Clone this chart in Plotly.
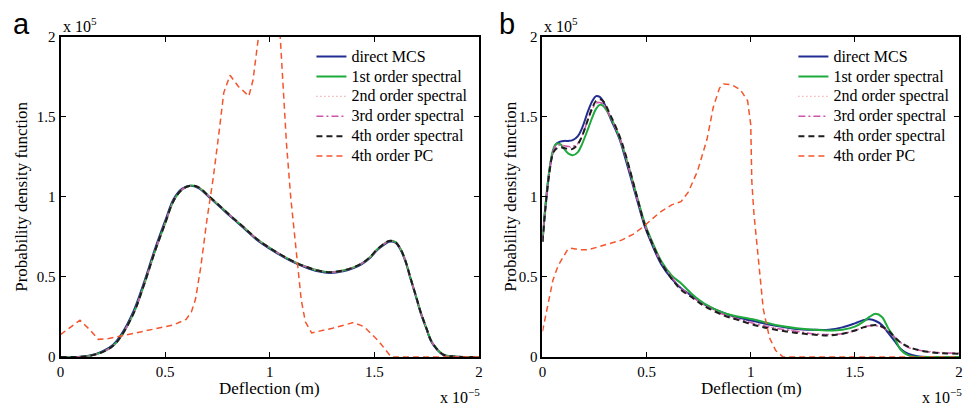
import plotly.graph_objects as go

# ---------------- data (x in 1e-5 m, y in 1e5) ----------------
a_x = [0, 0.05, 0.10, 0.15, 0.20, 0.25, 0.29, 0.35, 0.40, 0.45, 0.50, 0.54, 0.58, 0.62, 0.66, 0.70,
       0.76, 0.81, 0.88, 0.94, 1.02, 1.10, 1.17, 1.23, 1.29, 1.35, 1.40, 1.44, 1.48, 1.515, 1.55,
       1.57, 1.60, 1.625, 1.65, 1.67, 1.70, 1.72, 1.75, 1.77, 1.80, 1.83, 1.87, 1.92, 2.0]
a_mcs = [0, 0, 0.002, 0.012, 0.035, 0.075, 0.14, 0.29, 0.47, 0.67, 0.85, 0.985, 1.05, 1.07, 1.055,
         1.01, 0.94, 0.88, 0.80, 0.73, 0.66, 0.60, 0.56, 0.535, 0.525, 0.535, 0.555, 0.58, 0.62, 0.67,
         0.705, 0.72, 0.715, 0.67, 0.59, 0.50, 0.37, 0.28, 0.17, 0.10, 0.045, 0.012, 0.003, 0, 0]
a_spec = [0, 0, 0.002, 0.01, 0.03, 0.068, 0.13, 0.275, 0.455, 0.655, 0.835, 0.975, 1.045, 1.07, 1.06,
          1.015, 0.945, 0.885, 0.805, 0.735, 0.665, 0.605, 0.565, 0.54, 0.53, 0.54, 0.56, 0.585, 0.625,
          0.675, 0.71, 0.725, 0.718, 0.675, 0.595, 0.505, 0.375, 0.285, 0.175, 0.105, 0.048, 0.014,
          0.004, 0, 0]
a_pc_x = [0, 0.05, 0.093, 0.14, 0.18, 0.23, 0.30, 0.42, 0.54, 0.60, 0.625, 0.645, 0.67, 0.70, 0.73,
          0.76, 0.78, 0.81, 0.85, 0.90, 0.92, 0.946, 0.97, 1.0, 1.03, 1.05, 1.065, 1.08, 1.10, 1.13,
          1.15, 1.17, 1.20, 1.30, 1.40, 1.45, 1.52, 1.58, 1.7, 2.0]
a_pc = [0.14, 0.19, 0.23, 0.17, 0.11, 0.115, 0.135, 0.17, 0.20, 0.235, 0.28, 0.36, 0.56, 0.86, 1.12,
        1.43, 1.65, 1.76, 1.69, 1.63, 1.73, 2.0, 2.25, 2.35, 2.25, 2.0, 1.63, 1.33, 1.0, 0.60, 0.36,
        0.22, 0.15, 0.18, 0.215, 0.19, 0.10, 0.0, 0, 0]

b_x = [0, 0.015, 0.033, 0.05, 0.065, 0.085, 0.104, 0.125, 0.145, 0.17, 0.19, 0.22, 0.24, 0.257, 0.275,
       0.29, 0.33, 0.37, 0.40, 0.45, 0.49, 0.52, 0.57, 0.62, 0.665, 0.72, 0.775, 0.87, 0.93, 1.03, 1.12,
       1.22, 1.30, 1.375, 1.44, 1.50, 1.54, 1.57, 1.60, 1.63, 1.66, 1.69, 1.72, 1.755, 1.80, 1.85, 1.90,
       2.0]
b_mcs = [0.72, 0.95, 1.16, 1.28, 1.33, 1.345, 1.35, 1.35, 1.355, 1.38, 1.43, 1.54, 1.60, 1.63, 1.625,
         1.60, 1.48, 1.36, 1.23, 1.0, 0.82, 0.72, 0.58, 0.49, 0.43, 0.38, 0.33, 0.275, 0.25, 0.22, 0.195,
         0.175, 0.17, 0.17, 0.185, 0.21, 0.23, 0.235, 0.225, 0.20, 0.15, 0.10, 0.05, 0.02, 0.005, 0, 0, 0]
b_1st = [0.72, 0.96, 1.17, 1.29, 1.33, 1.33, 1.30, 1.27, 1.26, 1.28, 1.33, 1.43, 1.50, 1.55, 1.575,
         1.57, 1.49, 1.37, 1.25, 1.02, 0.84, 0.74, 0.60, 0.51, 0.46, 0.39, 0.335, 0.275, 0.255, 0.23,
         0.20, 0.18, 0.17, 0.165, 0.17, 0.19, 0.22, 0.25, 0.27, 0.25, 0.18, 0.12, 0.045, 0.012, 0, 0, 0, 0]
b_2nd = [0.72, 0.95, 1.16, 1.28, 1.32, 1.325, 1.32, 1.31, 1.31, 1.33, 1.38, 1.49, 1.55, 1.59, 1.595,
         1.585, 1.49, 1.37, 1.25, 1.01, 0.83, 0.73, 0.59, 0.50, 0.43, 0.375, 0.325, 0.265, 0.24, 0.205,
         0.18, 0.16, 0.145, 0.14, 0.145, 0.165, 0.185, 0.195, 0.195, 0.185, 0.16, 0.125, 0.09, 0.06,
         0.045, 0.035, 0.03, 0.025]
b_3rd = [0.72, 0.95, 1.16, 1.28, 1.32, 1.325, 1.32, 1.315, 1.315, 1.335, 1.38, 1.49, 1.55, 1.585, 1.59,
         1.58, 1.49, 1.37, 1.25, 1.01, 0.83, 0.73, 0.59, 0.50, 0.43, 0.375, 0.325, 0.265, 0.24, 0.205,
         0.18, 0.16, 0.145, 0.14, 0.145, 0.165, 0.185, 0.195, 0.195, 0.185, 0.16, 0.125, 0.09, 0.06,
         0.045, 0.033, 0.027, 0.022]
b_4th = [0.72, 0.94, 1.15, 1.27, 1.30, 1.31, 1.305, 1.30, 1.30, 1.33, 1.38, 1.49, 1.56, 1.60, 1.61,
         1.60, 1.50, 1.38, 1.26, 1.02, 0.83, 0.73, 0.59, 0.49, 0.42, 0.37, 0.32, 0.26, 0.235, 0.195,
         0.17, 0.15, 0.14, 0.135, 0.145, 0.165, 0.185, 0.195, 0.20, 0.19, 0.165, 0.125, 0.09, 0.065,
         0.045, 0.032, 0.025, 0.02]
b_pc_x = [0, 0.025, 0.05, 0.075, 0.097, 0.12, 0.136, 0.18, 0.22, 0.30, 0.38, 0.44, 0.49, 0.56, 0.62,
          0.665, 0.70, 0.744, 0.79, 0.82, 0.85, 0.87, 0.91, 0.95, 0.985, 1.0, 1.005, 1.015, 1.03, 1.06,
          1.09, 1.12, 1.155, 1.3, 2.0]
b_pc = [0.16, 0.33, 0.48, 0.57, 0.62, 0.67, 0.68, 0.67, 0.67, 0.70, 0.73, 0.77, 0.82, 0.90, 0.95, 0.97,
        1.03, 1.16, 1.36, 1.56, 1.68, 1.705, 1.70, 1.67, 1.60, 1.45, 1.1, 0.9, 0.70, 0.30, 0.12, 0.04,
        0, 0, 0]

names = ["direct MCS", "1st order spectral", "2nd order spectral", "3rd order spectral",
         "4th order spectral", "4th order PC"]
tick_vals = [0, 0.5, 1, 1.5, 2]
tick_text = ["0", "0.5", "1", "1.5", "2"]

# ---------------- styles ----------------
C_MCS = "rgb(35,45,145)"
C_1ST = "rgb(30,170,60)"
C_2ND = "rgb(240,140,140)"
C_3RD = "rgb(205,85,175)"
C_4TH = "rgb(30,30,30)"
C_PC = "rgb(245,85,45)"
FONT = "Liberation Serif"

styles = [
    dict(color=C_MCS, width=2, dash="solid"),
    dict(color=C_1ST, width=2, dash="solid"),
    dict(color=C_2ND, width=1.2, dash="1px,3px"),
    dict(color=C_3RD, width=1.5, dash="7px,3px,2px,3px"),
    dict(color=C_4TH, width=2, dash="6px,4px"),
    dict(color=C_PC, width=1.5, dash="6px,4px"),
]

fig = go.Figure()

panel_a = [(a_x, a_mcs), (a_x, a_spec), (a_x, a_spec), (a_x, a_spec), (a_x, a_spec), (a_pc_x, a_pc)]
panel_b = [(b_x, b_mcs), (b_x, b_1st), (b_x, b_2nd), (b_x, b_3rd), (b_x, b_4th), (b_pc_x, b_pc)]


def legend_label(s):
    return '<span style="font-size:16px">' + s + '</span>'


for i, (xs, ys) in enumerate(panel_a):
    fig.add_trace(go.Scatter(x=xs, y=ys, mode="lines", name=legend_label(names[i]), line=styles[i],
                             line_shape="linear" if i == 5 else "spline",
                             xaxis="x", yaxis="y", legend="legend", cliponaxis=True))
for i, (xs, ys) in enumerate(panel_b):
    fig.add_trace(go.Scatter(x=xs, y=ys, mode="lines", name=legend_label(names[i]), line=styles[i],
                             line_shape="linear" if i == 5 else "spline",
                             xaxis="x2", yaxis="y2", legend="legend2", cliponaxis=True))

W, H = 964, 414
ydom = [(H - 363) / H, (H - 30) / H]
axis_common = dict(range=[0, 2], tickvals=tick_vals, ticktext=tick_text, ticks="inside", ticklen=5,
                   tickwidth=1.2, tickcolor="black", showline=True, linecolor="black", linewidth=2,
                   mirror="ticks", showgrid=False, zeroline=False,
                   tickfont=dict(family=FONT, size=15, color="black"))

legend_common = dict(font=dict(family=FONT, size=13, color="black"), bgcolor="rgba(0,0,0,0)",
                     borderwidth=0, itemwidth=30, tracegroupgap=0, yanchor="top", xanchor="left")

fig.update_layout(
    width=W, height=H, margin=dict(l=0, r=0, t=0, b=0),
    paper_bgcolor="white", plot_bgcolor="white", showlegend=True,
    xaxis=dict(domain=[57 / W, 479 / W], anchor="y", **axis_common),
    yaxis=dict(domain=ydom, anchor="x", **axis_common),
    xaxis2=dict(domain=[543 / W, 963 / W], anchor="y2", **axis_common),
    yaxis2=dict(domain=ydom, anchor="x2", **axis_common),
    legend=dict(x=310 / W, y=(H - 35) / H, **legend_common),
    legend2=dict(x=796 / W, y=(H - 35) / H, **legend_common),
)

ann = []
for xc, letter in [(18, "a"), (507, "b")]:
    ann.append(dict(x=xc / W, y=(H - 17) / H, xref="paper", yref="paper", text=letter, showarrow=False,
                    font=dict(family="Liberation Sans", size=29, color="black"),
                    xanchor="center", yanchor="middle"))
for xl, xc_title, ytitle_x in [(57, 268, 18), (543, 754, 511)]:
    ann.append(dict(x=xc_title / W, y=(H - 396) / H, xref="paper", yref="paper", text="Deflection (m)",
                    showarrow=False, font=dict(family=FONT, size=17, color="black"),
                    xanchor="center", yanchor="middle"))
    ann.append(dict(x=ytitle_x / W, y=(H - 196.5) / H, xref="paper", yref="paper",
                    text="Probability density function", textangle=-90, showarrow=False,
                    font=dict(family=FONT, size=17, color="black"), xanchor="center", yanchor="middle"))
    ann.append(dict(x=xl / W, y=(H - 18) / H, xref="paper", yref="paper", text="x 10<sup>5</sup>",
                    showarrow=False, font=dict(family=FONT, size=16, color="black"),
                    xanchor="left", yanchor="middle"))
    ann.append(dict(x=(xl + 381) / W, y=(H - 404) / H, xref="paper", yref="paper",
                    text="x 10<sup>\u22125</sup>", showarrow=False,
                    font=dict(family=FONT, size=16, color="black"), xanchor="left", yanchor="middle"))
fig.update_layout(annotations=ann)

fig.write_html("out.html")
